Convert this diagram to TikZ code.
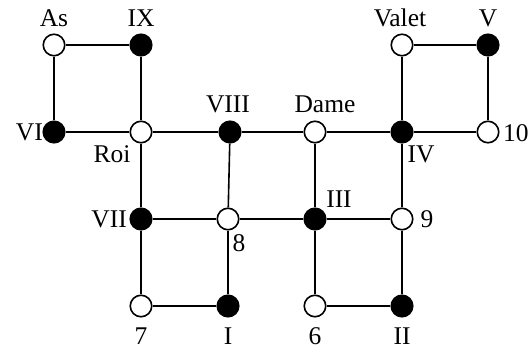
\documentclass[tikz,border=0pt]{standalone}
\usepackage{fontspec}
\setmainfont{Liberation Serif}
\begin{document}
\begin{tikzpicture}[x=1pt,y=-1pt,
  wn/.style={circle,draw=black,fill=white,line width=1.6pt,minimum size=21.5pt,inner sep=0pt},
  bn/.style={circle,draw=black,fill=black,line width=1.6pt,minimum size=21.5pt,inner sep=0pt},
  lab/.style={font=\fontsize{25.5}{30}\selectfont,inner sep=0pt},
  edge/.style={line width=1.6pt}]
\useasboundingbox (0,0) rectangle (531,349);
% nodes
\node[wn] (as) at (54,45) {};
\node[bn] (ix) at (141,45) {};
\node[wn] (valet) at (402,45) {};
\node[bn] (v) at (488,45) {};
\node[bn] (vi) at (54,132) {};
\node[wn] (roi) at (141,132) {};
\node[bn] (viii) at (230,132) {};
\node[wn] (dame) at (315,132) {};
\node[bn] (iv) at (402,132) {};
\node[wn] (ten) at (488,132) {};
\node[bn] (vii) at (141,219) {};
\node[wn] (eight) at (228,219) {};
\node[bn] (iii) at (315,219) {};
\node[wn] (nine) at (402,219) {};
\node[wn] (seven) at (141,306) {};
\node[bn] (i) at (228,306) {};
\node[wn] (six) at (315,306) {};
\node[bn] (ii) at (402,306) {};
% edges
\draw[edge] (as) -- (ix);
\draw[edge] (as) -- (vi);
\draw[edge] (ix) -- (roi);
\draw[edge] (vi) -- (roi);
\draw[edge] (roi) -- (viii);
\draw[edge] (viii) -- (dame);
\draw[edge] (dame) -- (iv);
\draw[edge] (iv) -- (ten);
\draw[edge] (valet) -- (v);
\draw[edge] (valet) -- (iv);
\draw[edge] (v) -- (ten);
\draw[edge] (roi) -- (vii);
\draw[edge] (viii) -- (eight);
\draw[edge] (dame) -- (iii);
\draw[edge] (iv) -- (nine);
\draw[edge] (vii) -- (eight);
\draw[edge] (eight) -- (iii);
\draw[edge] (iii) -- (nine);
\draw[edge] (vii) -- (seven);
\draw[edge] (eight) -- (i);
\draw[edge] (iii) -- (six);
\draw[edge] (nine) -- (ii);
\draw[edge] (seven) -- (i);
\draw[edge] (six) -- (ii);
% labels
\node[lab] (las) at (54,18) {As};
\node[lab] (lix) at (141,18) {IX};
\node[lab] (lvalet) at (400,18) {Valet};
\node[lab] (lv) at (488,18) {V};
\node[lab,anchor=east] (lvi) at (43,132) {VI};
\node[lab] (lroi) at (112,154) {Roi};
\node[lab] (lviii) at (228,104) {VIII};
\node[lab] (ldame) at (325,104) {Dame};
\node[lab] (liv) at (421,154) {IV};
\node[lab,anchor=west] (lten) at (503,133) {10};
\node[lab,anchor=east] (lvii) at (127,219) {VII};
\node[lab] (leight) at (239,243) {8};
\node[lab] (liii) at (339,199) {III};
\node[lab] (lnine) at (427,219) {9};
\node[lab] (lseven) at (141,336) {7};
\node[lab] (li) at (228,336) {I};
\node[lab] (lsix) at (315,336) {6};
\node[lab] (lii) at (402,336) {II};
\end{tikzpicture}
\end{document}
